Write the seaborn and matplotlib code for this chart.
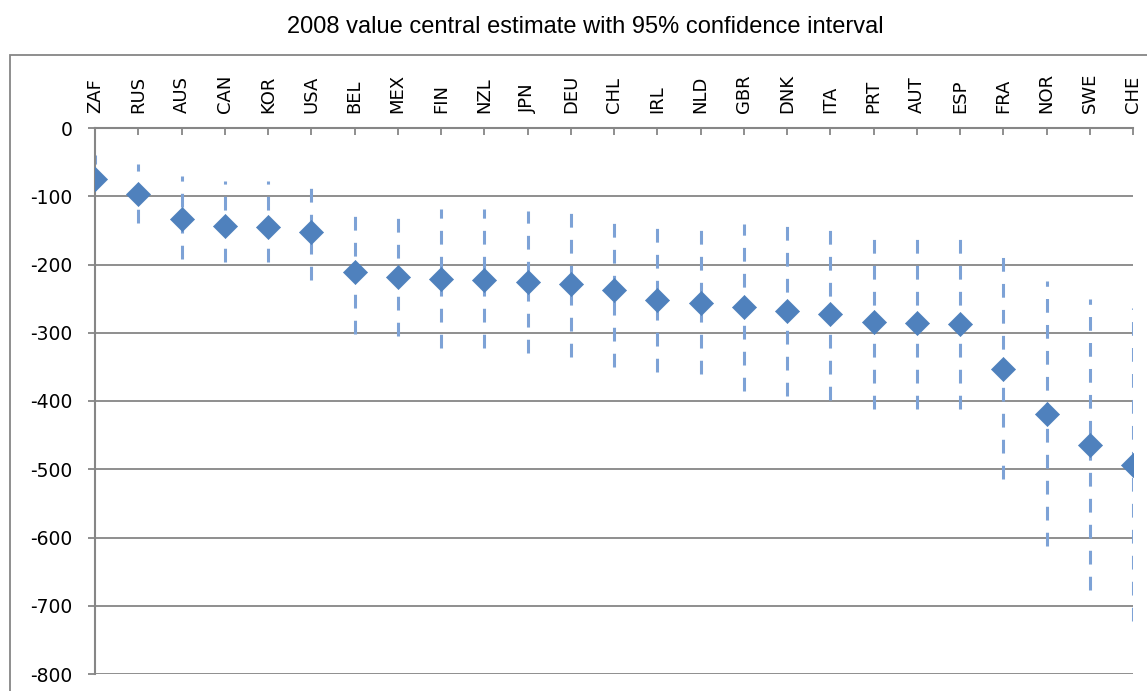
import matplotlib
matplotlib.use("Agg")
import matplotlib.pyplot as plt
import seaborn as sns
import pandas as pd
from matplotlib.patches import Rectangle

# Data
countries = ["ZAF", "RUS", "AUS", "CAN", "KOR", "USA", "BEL", "MEX", "FIN", "NZL",
             "JPN", "DEU", "CHL", "IRL", "NLD", "GBR", "DNK", "ITA", "PRT", "AUT",
             "ESP", "FRA", "NOR", "SWE", "CHE"]
central = [-74, -97, -134, -143, -145, -153, -211, -218, -221, -222,
           -225, -228, -238, -252, -256, -263, -268, -272, -284, -285,
           -287, -353, -419, -465, -494]
ci_upper = [-40, -53, -71, -77, -77, -82, -113, -117, -119, -119,
            -121, -124, -127, -136, -137, -141, -144, -146, -152, -153,
            -153, -189, -224, -250, -264]
ci_lower = [-91, -139, -192, -197, -197, -223, -302, -305, -323, -323,
            -329, -335, -350, -358, -360, -385, -392, -399, -411, -411,
            -411, -515, -613, -677, -723]
y_ticks = [0, -100, -200, -300, -400, -500, -600, -700, -800]

df = pd.DataFrame({"country": countries, "central": central,
                   "upper": ci_upper, "lower": ci_lower})

sns.set_style("white")
plt.rcParams["font.family"] = ["DejaVu Sans"]

W, H = 1147, 691
fig = plt.figure(figsize=(W / 100, H / 100), dpi=100)
ax = fig.add_axes([95 / W, 1 - 674 / H, (1133 - 95) / W, (674 - 128) / H])

grey = "#868686"

# outer chart border
fig.patches.append(Rectangle((10 / W, -0.1), 1.2, (1 - 55 / H) + 0.1,
                             transform=fig.transFigure, fill=False,
                             edgecolor=grey, linewidth=1.3, zorder=0))

# confidence intervals
ax.vlines(df.index, df["lower"], df["upper"], colors="#7DA2D6",
          linestyles=(0, (4.5, 4)), linewidth=2.2, zorder=2)

sns.scatterplot(data=df, x="country", y="central", marker="D", s=150,
                color="#4F81BD", edgecolor="#4F81BD", linewidth=0.5,
                ax=ax, zorder=3, legend=False)

ax.set_xlim(0, len(countries) - 1)
ax.set_ylim(-800, 0)
ax.set_yticks(y_ticks)
ax.set_yticklabels([str(v) for v in y_ticks])
ax.set_xlabel("")
ax.set_ylabel("")

for v in y_ticks[1:]:
    ax.axhline(v, color=grey, linewidth=1.3, zorder=1)

for side in ["right", "bottom"]:
    ax.spines[side].set_visible(False)
for side in ["left", "top"]:
    ax.spines[side].set_color(grey)
    ax.spines[side].set_linewidth(1.5)

ax.xaxis.tick_top()
ax.set_xticks(range(len(countries)))
ax.set_xticklabels(countries, rotation=90)
ax.tick_params(axis="x", direction="in", length=5, width=1.3, color=grey,
               pad=11, labelsize=13, labelcolor="black")
ax.tick_params(axis="y", direction="out", length=5, width=1.3, color=grey,
               pad=11, labelsize=13.5, left=True, labelcolor="black")

fig.text(585 / W, 1 - 27 / H, "2008 value central estimate with 95% confidence interval",
         ha="center", va="center", fontsize=17, family="Liberation Sans",
         color="black")

fig.savefig("out.png", dpi=100)
